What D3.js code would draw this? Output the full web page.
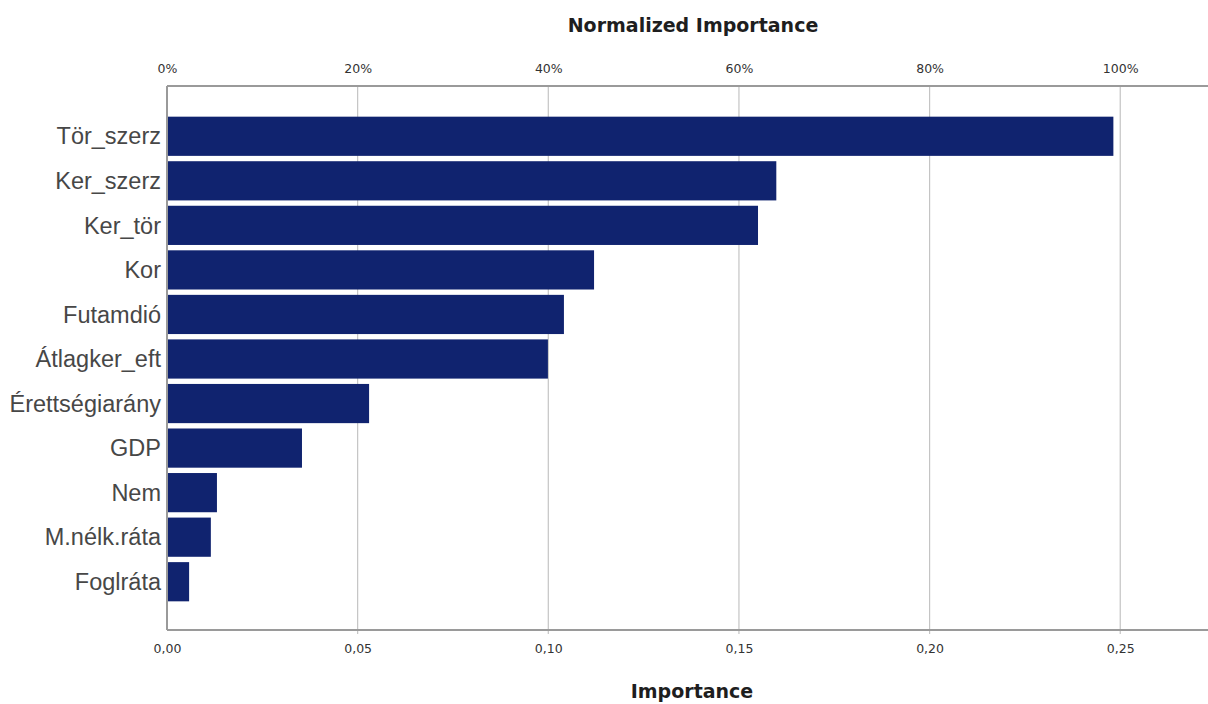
<!DOCTYPE html>
<html>
<head>
<meta charset="utf-8">
<script src="https://cdn.jsdelivr.net/npm/d3@7"></script>
<style>
  html, body { margin: 0; padding: 0; background: #fff; }
  svg { display: block; }
</style>
</head>
<body>
<svg id="chart" width="1208" height="704"></svg>
<script>
// Predictor names, most important first
const predictors = [
  "Tör_szerz", "Ker_szerz", "Ker_tör", "Kor", "Futamdió", "Átlagker_eft",
  "Érettségiarány", "GDP", "Nem", "M.nélk.ráta", "Foglráta"
];
// Raw importance of each predictor
const importance = [
  0.2482, 0.1598, 0.1550, 0.1120, 0.1041, 0.0999,
  0.0530, 0.0354, 0.0131, 0.0115, 0.0058
];
// Axis ticks
const importanceTicks = [0, 0.05, 0.10, 0.15, 0.20, 0.25];
const normalizedTicks = [0, 0.2, 0.4, 0.6, 0.8, 1.0];

const data = predictors.map((name, i) => ({ name, value: importance[i] }));

const svg = d3.select("#chart");
const margin = { left: 167, top: 86, bottom: 630 };
const plotRight = 1227;
const tickFont = "'DejaVu Sans', Verdana, sans-serif";
const labelFont = "'Liberation Sans', Arial, sans-serif";

const x = d3.scaleLinear().domain([0, 0.278]).range([margin.left, plotRight]);
// Normalized scale: 100% sits where importance 0.25 sits
const xNorm = d3.scaleLinear().domain([0, 1]).range([x(0), x(0.25)]);

const y = d3.scaleBand()
  .domain(predictors)
  .range([114, 604])
  .paddingInner(0.12)
  .paddingOuter(0.06);

// Vertical grid lines
svg.append("g")
  .selectAll("line")
  .data(importanceTicks.slice(1))
  .join("line")
  .attr("x1", d => x(d)).attr("x2", d => x(d))
  .attr("y1", margin.top).attr("y2", margin.bottom + 4)
  .attr("stroke", "#c4c4c4")
  .attr("stroke-width", 1.2);

// Bars
svg.append("g")
  .selectAll("rect")
  .data(data)
  .join("rect")
  .attr("x", x(0))
  .attr("y", d => y(d.name))
  .attr("width", d => x(d.value) - x(0))
  .attr("height", y.bandwidth())
  .attr("fill", "#10236f");

// Frame lines
const frame = svg.append("g").attr("stroke", "#9a9a9a").attr("stroke-width", 2);
frame.append("line").attr("x1", x(0)).attr("x2", plotRight).attr("y1", margin.top).attr("y2", margin.top);
frame.append("line").attr("x1", x(0)).attr("x2", plotRight).attr("y1", margin.bottom).attr("y2", margin.bottom);
frame.append("line").attr("x1", x(0)).attr("x2", x(0)).attr("y1", margin.top).attr("y2", margin.bottom);

// Bottom axis (importance)
const bottomAxis = d3.axisBottom(x)
  .tickValues(importanceTicks)
  .tickSize(0)
  .tickPadding(14)
  .tickFormat(d => d3.format(".2f")(d).replace(".", ","));
const gb = svg.append("g").attr("transform", `translate(0,${margin.bottom})`).call(bottomAxis);
gb.select(".domain").remove();
gb.selectAll("text").style("font-size", "12.5px").style("fill", "#333")
  .style("font-family", tickFont);

// Top axis (normalized importance)
const topAxis = d3.axisTop(xNorm)
  .tickValues(normalizedTicks)
  .tickSize(0)
  .tickPadding(13)
  .tickFormat(d3.format(".0%"));
const gt = svg.append("g").attr("transform", `translate(0,${margin.top})`).call(topAxis);
gt.select(".domain").remove();
gt.selectAll("text").style("font-size", "12.5px").style("fill", "#333")
  .style("font-family", tickFont);

// Category labels
svg.append("g")
  .selectAll("text")
  .data(data)
  .join("text")
  .attr("x", x(0) - 6)
  .attr("y", d => y(d.name) + y.bandwidth() / 2)
  .attr("dy", "0.35em")
  .attr("text-anchor", "end")
  .style("font-family", labelFont)
  .style("font-size", "23.5px")
  .style("fill", "#474747")
  .text(d => d.name);

// Axis titles
svg.append("text")
  .attr("x", 693).attr("y", 32)
  .attr("text-anchor", "middle")
  .style("font-family", tickFont)
  .style("font-size", "19px").style("font-weight", "bold").style("fill", "#1e1e1e")
  .text("Normalized Importance");

svg.append("text")
  .attr("x", 692).attr("y", 698)
  .attr("text-anchor", "middle")
  .style("font-family", tickFont)
  .style("font-size", "19px").style("font-weight", "bold").style("fill", "#1e1e1e")
  .text("Importance");
</script>
</body>
</html>
